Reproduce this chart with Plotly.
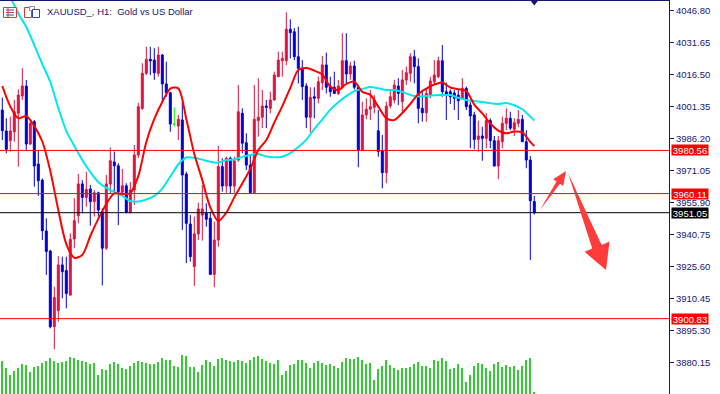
import plotly.graph_objects as go

# ---------------- data ----------------
opens = [3999.7, 3989.8, 3985.2, 3989.4, 3998.2, 4006.4, 4011.1, 3983.6, 3994.2, 3974.1,
         3966.5, 3942.4, 3932.9, 3897.0, 3904.6, 3926.3, 3923.6, 3912.0, 3938.6, 3949.6,
         3964.7, 3958.3, 3962.3, 3956.3, 3960.5, 3951.5, 3934.2, 3964.7, 3975.1, 3973.3,
         3960.7, 3963.8, 3951.2, 3961.8, 3978.4, 4000.5, 4017.1, 4023.8, 4023.4, 4017.1,
         4025.8, 4012.1, 4007.9, 3993.0, 3992.1, 3995.0, 3969.4, 3945.7, 3925.5, 3941.0,
         3949.9, 3950.8, 3948.4, 3921.8, 3938.1, 3972.9, 3963.7, 3976.9, 3963.7, 3976.0,
         3998.2, 3984.2, 3973.6, 3960.5, 3994.7, 3996.3, 4001.6, 4000.5, 4004.5, 4015.5,
         4023.1, 4023.1, 4038.0, 4036.8, 4025.0, 4019.5, 4011.1, 3996.3, 4006.0, 4005.3,
         4012.7, 4021.1, 4011.1, 4010.5, 4007.6, 4010.5, 4023.1, 4016.8, 4020.6, 4010.5,
         3980.8, 3997.4, 4000.1, 4001.0, 3989.9, 3980.4, 3970.0, 4001.6, 4004.5, 4011.1,
         4003.7, 4014.0, 4017.1, 4025.0, 4020.3, 4000.5, 3998.4, 4006.8, 4013.1, 4015.5,
         4023.1, 4008.4, 4008.4, 4007.8, 4006.8, 4005.3, 4010.0, 4002.1, 3997.4, 3985.8,
         3987.4, 3986.3, 3994.7, 3985.2, 3973.2, 3984.7, 3993.4, 3995.8, 3990.6, 3993.4,
         3995.3, 3984.7, 3976.0, 3956.3]
highs = [4005.6, 3995.8, 3996.6, 4004.5, 4009.5, 4019.5, 4014.0, 3994.5, 3995.0, 3980.4,
         3967.3, 3948.4, 3933.4, 3916.0, 3930.5, 3930.2, 3930.2, 3941.3, 3957.9, 3969.4,
         3966.5, 3970.5, 3964.2, 3961.8, 3961.0, 3953.1, 3968.9, 3982.0, 3980.0, 3974.5,
         3971.8, 3965.0, 3965.6, 3983.1, 4003.1, 4021.9, 4029.7, 4029.7, 4029.0, 4029.7,
         4026.3, 4022.6, 4008.4, 4001.0, 3997.4, 4003.7, 3970.5, 3949.9, 3949.2, 3955.8,
         3964.2, 3955.5, 3951.5, 3946.8, 3982.7, 3976.8, 3977.6, 3977.6, 3977.6, 4011.6,
         4000.5, 3988.7, 3978.4, 4011.6, 4014.8, 4009.2, 4004.5, 4008.4, 4017.9, 4027.4,
         4027.4, 4046.0, 4042.7, 4038.5, 4039.2, 4023.4, 4012.4, 4010.5, 4010.5, 4015.5,
         4025.3, 4026.9, 4015.5, 4017.9, 4014.0, 4036.1, 4036.1, 4022.6, 4023.1, 4011.6,
         4003.7, 4005.3, 4009.2, 4006.8, 3999.7, 3987.9, 4003.7, 4009.2, 4014.0, 4014.8,
         4018.7, 4020.3, 4026.6, 4028.2, 4024.2, 4009.2, 4010.0, 4015.5, 4023.4, 4025.0,
         4030.5, 4012.7, 4009.5, 4009.2, 4009.2, 4014.8, 4010.8, 4003.7, 3998.9, 3994.7,
         3991.8, 3998.2, 3995.8, 3987.4, 3987.4, 3996.6, 4000.5, 3998.9, 3995.8, 3999.7,
         3997.4, 3990.2, 3977.9, 3959.0]
lows = [3985.5, 3979.2, 3980.0, 3984.7, 3972.9, 4004.5, 3980.8, 3983.1, 3963.4, 3959.0,
        3938.1, 3921.5, 3896.2, 3886.3, 3899.4, 3910.5, 3905.7, 3911.6, 3934.2, 3946.0,
        3950.7, 3953.9, 3944.9, 3949.2, 3949.2, 3916.6, 3933.4, 3960.2, 3961.0, 3945.2,
        3959.4, 3950.7, 3950.7, 3954.7, 3977.0, 3999.7, 4016.3, 4016.3, 4014.0, 4015.5,
        4003.7, 4006.0, 3989.4, 3991.8, 3985.5, 3942.9, 3927.1, 3927.8, 3916.3, 3938.1,
        3937.8, 3944.4, 3921.5, 3915.7, 3934.9, 3961.0, 3960.5, 3960.2, 3960.5, 3975.2,
        3979.2, 3971.3, 3960.2, 3960.2, 3987.1, 3991.1, 3991.1, 3998.2, 4004.1, 4015.4,
        4015.5, 4021.0, 4024.2, 4023.4, 4012.4, 4004.5, 3991.1, 3989.0, 3995.8, 4002.9,
        4009.2, 4007.6, 4006.0, 4007.3, 4006.8, 4010.0, 4012.4, 4014.0, 4009.5, 3972.6,
        3980.4, 3995.3, 3995.0, 3998.2, 3977.6, 3962.6, 3965.0, 4000.5, 4002.9, 4002.1,
        3998.9, 4011.6, 4013.1, 4012.4, 3993.4, 3994.2, 3994.2, 4005.3, 4011.6, 4014.8,
        4006.0, 3995.0, 4002.6, 3999.7, 3995.0, 4004.5, 3999.7, 3981.6, 3981.1, 3980.0,
        3975.7, 3981.6, 3981.6, 3972.9, 3966.9, 3981.6, 3990.2, 3990.2, 3987.4, 3991.5,
        3984.6, 3972.1, 3928.6, 3950.2]
closes = [3989.9, 3981.1, 3989.8, 3998.9, 4006.8, 4011.1, 3983.6, 3993.4, 3973.2, 3966.2,
          3942.5, 3932.6, 3897.0, 3910.8, 3926.3, 3923.1, 3912.8, 3938.4, 3947.3, 3964.7,
          3958.3, 3962.1, 3956.3, 3960.5, 3952.3, 3934.2, 3964.7, 3975.7, 3973.3, 3961.0,
          3963.8, 3951.2, 3961.8, 3978.4, 4001.3, 4017.1, 4023.8, 4023.0, 4017.4, 4025.8,
          4012.1, 4007.9, 3993.1, 3993.0, 3995.3, 3968.9, 3946.0, 3930.2, 3941.0, 3952.8,
          3952.8, 3947.9, 3921.8, 3938.1, 3972.9, 3963.7, 3976.8, 3963.7, 3975.7, 3998.9,
          3984.0, 3973.6, 3960.5, 3995.3, 3996.3, 4001.6, 4001.0, 4004.5, 4016.3, 4023.4,
          4024.2, 4038.0, 4036.4, 4025.0, 4019.5, 4010.8, 3996.3, 4005.7, 4005.3, 4013.1,
          4021.1, 4010.5, 4008.4, 4007.6, 4011.1, 4023.1, 4016.8, 4020.6, 4010.5, 3980.8,
          3997.4, 4000.1, 4001.3, 4004.5, 3980.0, 3970.0, 4001.6, 4006.0, 4011.6, 4007.6,
          4014.0, 4017.4, 4025.0, 4020.3, 4000.5, 3998.4, 4007.6, 4013.5, 4016.3, 4023.1,
          4008.4, 4007.3, 4006.0, 4005.3, 4004.1, 4010.0, 4001.3, 3996.9, 3985.8, 3987.4,
          3986.3, 3994.7, 3985.2, 3973.2, 3985.2, 3993.4, 3995.8, 3991.1, 3993.7, 3995.3,
          3984.7, 3976.0, 3956.7, 3951.05]
volumes = [99, 78, 57, 69, 78, 90, 87, 66, 81, 84, 93, 99, 108, 99, 93, 96, 99, 111, 108, 102,
           99, 96, 90, 93, 57, 75, 72, 90, 96, 90, 78, 75, 84, 93, 99, 96, 93, 90, 90, 96,
           108, 102, 102, 84, 81, 117, 114, 81, 81, 66, 87, 102, 96, 84, 105, 108, 102, 99, 96, 102,
           99, 93, 102, 111, 114, 105, 99,
           93, 90, 102, 57, 69, 87, 90, 102, 102, 93, 78, 93, 99, 93, 87, 90, 84, 78, 96, 108,
           105, 105, 111, 102, 90, 93, 42, 75, 84, 102, 87, 78, 72, 78, 78, 81, 90, 96, 84, 84,
           78, 102, 99, 108, 99, 75, 78, 90, 78, 36, 57, 84, 93, 90, 78, 69, 90, 96, 81, 87,
           81, 84, 72, 84, 102, 108, 6]
ma_index = list(range(0, 133, 2)) + [133]
ma_fast = [4011.1, 4001.4, 3995.8, 3996.9, 3992.1, 3984.8, 3970.8, 3952.3, 3936.2, 3929.7,
           3931.0, 3940.0, 3948.1, 3955.2, 3960.2, 3959.9, 3960.4, 3968.4, 3984.6, 3995.5,
           4003.5, 4009.9, 4010.0, 3995.5, 3978.9, 3966.5, 3953.5, 3947.1, 3951.1, 3958.3,
           3964.9, 3971.8, 3980.8, 3985.5, 3993.8, 4001.6, 4010.2, 4018.7, 4019.6, 4018.4,
           4016.6, 4010.9, 4009.2, 4012.1, 4013.2, 4008.3, 4006.9, 4001.3, 3995.9, 3995.0,
           3998.3, 4002.6, 4007.3, 4009.9, 4011.8, 4012.8, 4010.4, 4009.6, 4008.7, 4002.3,
           3998.1, 3993.3, 3990.0, 3988.7, 3989.5, 3989.1, 3984.6, 3982.7]
ma_slow = [4059.5, 4053.3, 4045.5, 4039.1, 4030.5, 4021.5, 4013.0, 4000.7, 3989.8, 3982.7,
           3976.0, 3970.3, 3965.6, 3962.8, 3960.9, 3959.0, 3956.6, 3956.3, 3957.3, 3959.0,
           3962.5, 3968.2, 3973.9, 3977.2, 3977.1, 3976.2, 3975.2, 3974.8, 3976.0, 3976.3,
           3977.5, 3978.4, 3978.9, 3977.7, 3977.3, 3977.6, 3979.3, 3982.2, 3985.7, 3990.7,
           3995.2, 3999.9, 4003.4, 4006.3, 4008.7, 4009.7, 4010.6, 4010.0, 4009.2, 4009.2,
           4008.3, 4006.8, 4006.1, 4006.4, 4006.7, 4006.8, 4006.8, 4005.5, 4004.5, 4004.0,
           4003.5, 4002.9, 4002.6, 4003.1, 4002.0, 4000.1, 3996.6, 3994.7]
level_prices = [3980.56, 3960.11, 3900.83]
bid_price = 3951.05
tick_prices = [4046.80, 4031.65, 4016.50, 4001.35, 3986.20, 3971.05,
               3955.90, 3940.75, 3925.60, 3910.45, 3895.30, 3880.15]
title_text = "XAUUSD_, H1:\u00a0 Gold vs US Dollar"

# ---------------- styling / geometry ----------------
W, H = 720, 394
ML, MR, MT, MB = 0, 51, 1, 0
PW, PH = W - ML - MR, H - MT - MB
NAVY = "#16166e"
RED_C, BLUE_C = "#dc143c", "#0000cd"
TICK_FONT = dict(family="Liberation Sans, Arial, sans-serif", size=9.5, color=NAVY)

def P(x, y):
    """pixel -> paper coords (decorations only)"""
    return (x - ML) / PW, 1 - (y - MT) / PH

def path(points):
    s = ""
    for k, (x, y) in enumerate(points):
        px, py = P(x, y)
        s += ("M" if k == 0 else "L") + f"{px:.5f},{py:.5f} "
    return s + "Z"

idx = list(range(len(opens)))
normal = [i for i in idx if opens[i] != closes[i]]
doji = [i for i in idx if opens[i] == closes[i]]

fig = go.Figure()
fig.add_trace(go.Bar(x=idx, y=volumes, yaxis="y2", width=0.25,
                     marker=dict(color="#32cd32", line=dict(width=0)),
                     hoverinfo="skip", showlegend=False))
fig.add_trace(go.Candlestick(
    x=normal, open=[opens[i] for i in normal], high=[highs[i] for i in normal],
    low=[lows[i] for i in normal], close=[closes[i] for i in normal],
    increasing=dict(line=dict(color=RED_C, width=1), fillcolor=RED_C),
    decreasing=dict(line=dict(color=BLUE_C, width=1), fillcolor=BLUE_C),
    showlegend=False))
fig.add_trace(go.Candlestick(
    x=doji, open=[opens[i] for i in doji], high=[highs[i] for i in doji],
    low=[lows[i] for i in doji], close=[closes[i] for i in doji],
    increasing=dict(line=dict(color="#00ff00", width=1), fillcolor="#00ff00"),
    decreasing=dict(line=dict(color="#00ff00", width=1), fillcolor="#00ff00"),
    showlegend=False))
fig.add_trace(go.Scatter(x=ma_index, y=ma_slow, mode="lines",
                         line=dict(color="#00e8ee", width=2, shape="spline", smoothing=0.8),
                         showlegend=False))
fig.add_trace(go.Scatter(x=ma_index, y=ma_fast, mode="lines",
                         line=dict(color="#ff0000", width=2, shape="spline", smoothing=0.8),
                         showlegend=False))

y_top = 4051.4
y_bot = 3865.1
# chart-shift marker
fig.add_trace(go.Scatter(x=[idx[-1]], y=[y_top], mode="markers", cliponaxis=False,
                         marker=dict(symbol="triangle-down", size=9, color=NAVY),
                         showlegend=False, hoverinfo="skip"))

shapes = []
for lp in level_prices:
    shapes.append(dict(type="line", xref="paper", yref="y", x0=0, x1=1, y0=lp, y1=lp,
                       line=dict(color="#ff0000", width=1)))
shapes.append(dict(type="line", xref="paper", yref="y", x0=0, x1=1, y0=bid_price, y1=bid_price,
                   line=dict(color="#000000", width=1)))

# hand-drawn arrows
arrow1 = [(540, 210), (559.9, 183.7), (563.2, 185.9), (566, 171), (553.2, 179.3), (556.5, 181.5)]
arrow2 = [(568, 173), (601.6, 244.9), (609.5, 241.5), (606, 270), (584.5, 251.8), (592.2, 248.5)]
for a in (arrow1, arrow2):
    shapes.append(dict(type="path", xref="paper", yref="paper", path=path(a),
                       fillcolor="#ff3b3b", line=dict(width=0)))

# header icons
def rect(x0, y0, x1, y1, color, fill=None):
    a, b = P(x0, y0)
    c, d = P(x1, y1)
    return dict(type="rect", xref="paper", yref="paper", x0=a, y0=b, x1=c, y1=d,
                line=dict(color=color, width=1), fillcolor=fill or "rgba(0,0,0,0)")

def seg(x0, y0, x1, y1, color):
    a, b = P(x0, y0)
    c, d = P(x1, y1)
    return dict(type="line", xref="paper", yref="paper", x0=a, y0=b, x1=c, y1=d,
                line=dict(color=color, width=1))

shapes += [rect(3.5, 7.5, 16.5, 17.5, "#e03838", "#ffffff"),
           seg(6, 10, 14, 10, "#2a4aa8"), seg(6, 12.5, 14, 12.5, "#e03838"),
           seg(6, 15, 14, 15, "#2a4aa8"), seg(8, 8, 8, 17, "#e03838"),
           rect(24.5, 7.5, 31.5, 17.5, "#e03838", "#ffffff"),
           rect(29.5, 6.5, 34.5, 10.5, "#909090", "#ffffff"),
           rect(32.5, 9.5, 39.5, 17.5, "#2a4aa8", "#ffffff")]

annotations = []
tx, ty = P(45, 12)
annotations.append(dict(xref="paper", yref="paper", x=tx, y=ty, xanchor="left", yanchor="middle",
                        text=title_text, showarrow=False,
                        font=dict(family="Liberation Sans, Arial, sans-serif",
                                  size=9.5, color=NAVY)))
for lp, bg in [(p, "#ff0000") for p in level_prices] + [(bid_price, "#000000")]:
    annotations.append(dict(xref="paper", yref="y", x=1, y=lp, xanchor="left", yanchor="middle",
                            xshift=2, text=f"{lp:.2f}", showarrow=False, bgcolor=bg,
                            borderpad=0, width=36, height=10, align="center",
                            font=dict(family=TICK_FONT["family"], size=9.5, color="#ffffff")))

fig.update_layout(
    width=W, height=H, margin=dict(l=ML, r=MR, t=MT, b=MB, pad=0),
    paper_bgcolor="#ffffff", plot_bgcolor="#ffffff",
    showlegend=False, shapes=shapes, annotations=annotations, bargap=0,
    xaxis=dict(range=[-0.575, (PW - 2.3) / 4], showgrid=False, zeroline=False,
               showticklabels=False, ticks="", rangeslider=dict(visible=False),
               showline=True, side="top", linecolor=NAVY, linewidth=1, fixedrange=True),
    yaxis=dict(range=[y_bot, y_top], side="right", showgrid=False, zeroline=False,
               tickvals=tick_prices, ticktext=[f"{t:.2f}" for t in tick_prices],
               ticks="outside", ticklen=4, tickcolor=NAVY, showline=True, linecolor=NAVY,
               linewidth=1, tickfont=TICK_FONT),
    yaxis2=dict(overlaying="y", range=[0, 3 * PH], visible=False),
)

fig.write_html("out.html", config={"displayModeBar": False},
               post_script="document.body.style.margin='0';document.body.style.overflow='hidden';")
